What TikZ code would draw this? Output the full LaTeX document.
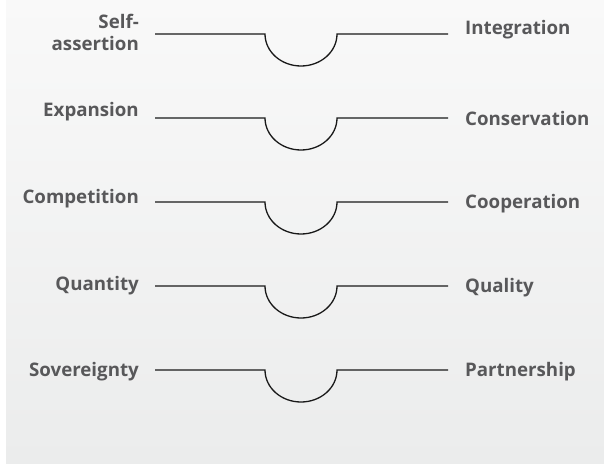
\documentclass[tikz,border=0pt]{standalone}
\usepackage{fontspec}
\setmainfont{Open Sans}
\usepackage{xcolor}
\usetikzlibrary{positioning}
\definecolor{labelgray}{RGB}{88,88,90}
\definecolor{linegray}{RGB}{25,25,25}
\definecolor{paneltop}{RGB}{249,249,249}
\definecolor{panelbottom}{RGB}{235,236,236}

\begin{document}
\begin{tikzpicture}[x=1pt,y=1pt,
    word/.style={text=labelgray,inner sep=0pt,align=right,
      font=\fontsize{18.7}{22}\selectfont\bfseries},
    link/.style={draw=linegray,line width=1.3pt}]
    \useasboundingbox (0,0) rectangle (604,464);
    % Background panel
    \shade[top color=paneltop,bottom color=panelbottom] (6,1) rectangle (604,464);

    % Rows: line height / left baseline / right baseline / left word / right word
    \foreach \i/\y/\lb/\rb/\lw/\rw in {
        1/430/413/429/{Self-\\assertion}/Integration,
        2/346/347/338/Expansion/Conservation,
        3/262/261/256/Competition/Cooperation,
        4/178/174/172/Quantity/Quality,
        5/94/88/88/Sovereignty/Partnership}
    {
        \node[word,anchor=base east] (left\i) at (139,\lb) {\lw};
        \node[word,anchor=base west] (right\i) at (465,\rb) {\rw};
        \coordinate (start\i) at (155,\y);
        \coordinate (dip\i) at (265,\y);
        \coordinate (end\i) at (448,\y);
        \draw[link] (start\i) -- (dip\i)
            arc[start angle=180,end angle=360,x radius=36,y radius=32]
            -- (end\i);
    }
\end{tikzpicture}
\end{document}
